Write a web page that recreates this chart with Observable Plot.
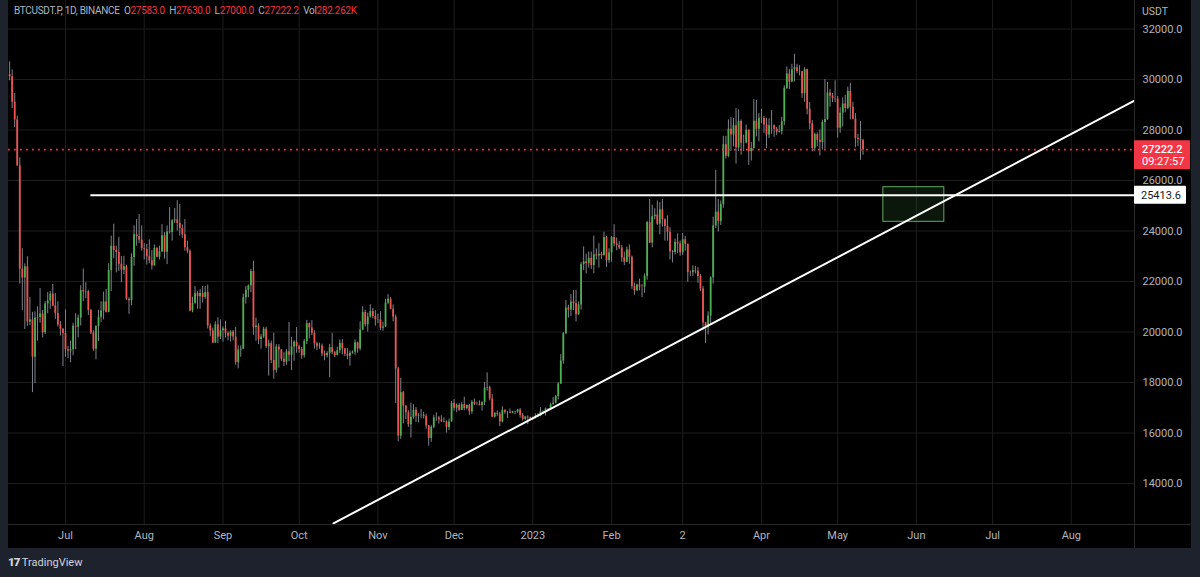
<!DOCTYPE html>
<html>
<head>
<meta charset="utf-8">
<script src="https://cdn.jsdelivr.net/npm/d3@7"></script>
<script src="https://cdn.jsdelivr.net/npm/@observablehq/plot@0.6"></script>
<style>
  html, body { margin: 0; padding: 0; background: #1e222d; width: 1200px; height: 577px; overflow: hidden;
    font-family: Roboto, "Noto Sans", sans-serif; }
  #wrap { position: absolute; left: 8px; top: 0; width: 1183px; height: 548px; background: #000; }
  #wrap svg { display: block; }
  #header { position: absolute; left: 6px; top: 5px; font-size: 10px; color: #b2b5be; white-space: pre; letter-spacing: -0.3px; }
  #header .v { color: #f23645; }
  #unit { position: absolute; left: 1134px; top: 5px; font-size: 10.5px; color: #b2b5be; }
  #logo { position: absolute; left: 8px; top: 555px; font-size: 11px; color: #d1d4dc; white-space: pre; }
  #logo b { font-weight: 900; letter-spacing: -1px; font-size: 11.5px; }
</style>
</head>
<body>
<div id="wrap">
  <div id="chart"></div>
  <div id="header"></div>
  <div id="unit">USDT</div>
</div>
<div id="logo"><b>17</b> TradingView</div>
<script>
// ---------------- DATA (daily candles, BTCUSDT.P, from 2022-06-09 to 2023-05-11) ----------------
const symbolText = "BTCUSDT.P, 1D, BINANCE";
const firstDay = "2022-06-09";
const lastVolume = "282.262K";
const countdown = "09:27:57";

const open = [
  30190,30110,29100,28400,26580,22490,22140,22580,20400,20480,19000,20550,20570,20710,19970,21110,21230,21500,21030,20730,20280,20110,
  19940,19300,19240,19300,20230,20190,20550,21640,21590,21600,20850,19960,19320,20220,20580,20830,21190,20780,22430,23390,23230,23150,22680,22450,22580,21300,21240,22950,23850,23780,23640,
  23300,23270,22980,22820,22620,23310,22960,23180,23810,23160,23960,23940,24400,24440,24300,24100,23850,23340,23200,20830,21140,21520,21400,21530,21370,21560,20240,20040,19560,20280,19800,
  20050,20130,19950,19830,20000,19800,18790,19290,19320,21360,21650,21830,22400,20180,20240,19700,19800,20110,19420,19540,18870,18480,19400,19290,18920,18800,19220,19080,19410,19590,
  19420,19310,19060,19620,20330,20160,19950,19530,19420,19440,19130,19060,19150,19380,19180,19070,19260,19550,19330,19120,19040,19160,19200,19570,19330,20080,20770,20290,20590,20810,20620,
  20490,20480,20150,20200,21150,21300,20900,20590,18540,15880,17600,17070,16800,16330,16620,16900,16660,16690,16700,16650,16280,15780,16230,16600,16600,16520,16460,16440,16220,16440,
  17170,16980,17100,16890,17120,16970,17090,16840,17220,17130,17130,17090,17210,17780,17800,17350,16630,16780,16740,16440,16900,16820,16820,16780,16840,16830,16910,16700,16540,16630,16600,
  16540,16610,16670,16670,16850,16830,16950,16940,17120,17180,17440,17940,18850,19930,20950,20870,21190,21130,20680,21070,22670,22780,22710,22920,22630,23060,23010,23080,23030,23740,22830,
  23130,23740,23490,23430,23330,22930,22760,23250,22960,21800,21630,21860,21780,21780,22200,24330,23520,24570,24630,24270,24840,24450,24180,23950,23180,23150,23550,23490,
  23140,23650,23470,22360,22350,22430,22410,22200,21700,20360,20190,20630,22150,24200,24750,24380,25050,27420,26960,28030,27800,28170,27300,28340,27480,27490,27990,27140,27270,28350,28030,
  28470,28460,28200,27800,28170,28170,28030,27910,27940,28330,29650,30220,29900,30390,30470,30320,30310,29440,30390,28820,28250,27270,27820,27590,27510,28300,28420,29470,29340,29240,
  29230,28070,28670,29030,28850,29530,28900,28430,27660,27620,27583
];
const high = [
  30700,30380,29450,28550,26900,23300,22700,22980,21360,20780,20800,21000,21720,20850,21200,21560,21600,21880,21520,21200,20420,20140,
  20870,19430,19640,20350,20720,20670,21830,22500,21950,21650,20900,20050,20250,20860,21200,21580,21680,22700,23800,24270,23400,23750,22990,23000,22650,21350,23100,24200,24450,24650,24200,
  23500,23470,23650,23220,23450,23350,23400,24250,23940,24200,24920,24450,24890,25200,25050,24240,24450,23600,23250,21380,21800,21600,21680,21800,21800,21860,20330,20150,20400,20560,20480,
  20200,20430,20000,20050,20060,20180,19450,19450,21500,21800,21860,22480,22800,20550,20330,19900,20190,20190,19680,19640,19950,19500,19500,19300,19180,19300,20380,19790,19650,20180,
  19480,19390,19700,20460,20360,20450,20050,19600,19560,19520,19250,19220,19510,19950,19230,19400,19680,19700,19350,19350,19250,19250,19690,19600,20400,21000,20860,20750,21080,20930,20840,
  20700,20800,20390,21300,21480,21360,21070,20670,18600,18170,17650,17080,16880,17180,17120,17010,16770,16930,16820,16740,16300,16290,16700,16800,16650,16680,16600,16480,16550,17250,
  17320,17150,17160,17200,17420,17110,17130,17280,17350,17220,17270,17240,18000,18380,17850,17530,16800,16870,16820,17040,16910,16860,16950,16860,16870,16940,16970,16780,16660,16680,16630,
  16630,16760,16770,17000,16880,16990,16970,17180,17400,17490,18000,19100,19980,21250,21060,21480,21640,21650,21190,22750,23370,23080,23170,23160,23800,23290,23500,23160,23950,23790,23300,
  23780,24250,23720,23580,23430,23160,23360,23450,23010,21940,21900,22090,21880,22300,24380,25250,25020,24880,25190,25120,25250,24480,24600,24130,23220,23680,23880,23600,
  23900,23780,23480,22420,22620,22600,22550,22270,21810,20370,20800,22190,24550,26400,25250,25190,27750,27750,28400,28500,28450,28850,28800,28400,27800,28200,28000,27500,29200,29170,28650,
  28820,28530,28470,28440,28770,28200,28100,28170,28500,29750,30500,30400,30600,31000,30600,30550,30320,30470,30410,29090,28370,27880,27880,28000,28390,30000,29880,29600,29450,29950,
  29330,28880,29270,29380,29700,29850,29100,28650,27830,28330,27630
];
const low = [
  29950,28850,28100,26560,21900,20850,20100,20230,20250,17600,17960,19640,20350,19770,19900,20720,20900,21000,20500,20200,19840,18630,
  19000,18950,18780,19060,19300,19770,20240,21200,21320,20650,19900,19240,18900,19620,20380,20480,20750,20760,21600,22900,22340,22400,21950,22280,21250,20700,21040,22600,23400,23500,23200,
  22850,22650,22700,22450,22600,22940,22850,23150,22880,22670,23870,23600,24300,24000,23800,23700,23200,23100,20800,20760,21100,20900,20900,21150,21300,20120,19810,19550,19550,19540,19700,
  19600,19760,19650,19600,19650,18680,18540,19000,19300,21100,21360,21560,19870,19630,19500,19320,19750,19350,18250,18750,18130,18370,18570,18820,18630,18680,18820,18470,18840,19160,
  19160,18920,18970,19500,19730,19850,19320,19260,19320,19020,18860,18970,18190,19100,18980,19050,19150,19100,19020,18900,18650,19120,19080,19160,19250,20050,20200,20000,20550,20520,20230,
  20330,20050,20030,20170,21080,20880,20400,17170,15650,15750,16360,16530,16220,15800,16540,16420,16400,16560,16560,16150,15480,15630,16170,16460,16350,16410,16400,16000,16100,16430,
  16870,16800,16860,16880,16880,16910,16690,16740,17090,17080,17070,16870,17080,17660,17270,16600,16590,16660,16260,16400,16740,16570,16770,16760,16730,16780,16590,16470,16500,16330,16490,
  16490,16550,16600,16650,16750,16670,16910,16900,17100,17150,17310,17920,18720,19890,20550,20620,20850,20400,20660,20870,22430,22300,22530,22480,22300,22850,22530,22880,23000,22560,22720,
  22760,23370,23220,23260,22760,22630,22750,22680,21690,21460,21600,21630,21360,21530,22050,23500,23330,24440,24220,23850,24150,23600,23600,22850,22740,23050,23100,23000,
  23030,23200,21970,22200,22200,22300,21930,21600,20050,19550,19880,20300,21900,24100,23960,24220,24900,26850,26900,27150,27330,26650,27150,27000,27150,27450,26600,26770,27250,27720,27530,
  28250,27870,27260,27660,27830,27710,27780,27880,27800,28170,29600,29600,29870,29900,30230,30140,29260,29100,28600,28010,27130,27140,27350,26970,27200,27250,28380,28900,29080,29080,
  27680,27870,28120,28680,28800,28400,28400,27300,27350,26800,27000
];
const close = [
  30110,29100,28400,26580,22490,22140,22580,20400,20480,19000,20550,20570,20710,19970,21110,21230,21500,21030,20730,20280,20110,19940,
  19300,19240,19300,20230,20190,20550,21640,21590,21600,20850,19960,19320,20220,20580,20830,21190,20780,22430,23390,23230,23150,22680,22450,22580,21300,21240,22950,23850,23780,23640,23300,
  23270,22980,22820,22620,23310,22960,23180,23810,23160,23960,23940,24400,24440,24300,24100,23850,23340,23200,20830,21140,21520,21400,21530,21370,21560,20240,20040,19560,20280,19800,20050,
  20130,19950,19830,20000,19800,18790,19290,19320,21360,21650,21830,22400,20180,20240,19700,19800,20110,19420,19540,18870,18480,19400,19290,18920,18800,19220,19080,19410,19590,19420,
  19310,19060,19620,20330,20160,19950,19530,19420,19440,19130,19060,19150,19380,19180,19070,19260,19550,19330,19120,19040,19160,19200,19570,19330,20080,20770,20290,20590,20810,20620,20490,
  20480,20150,20200,21150,21300,20900,20590,18540,15880,17600,17070,16800,16330,16620,16900,16660,16690,16700,16650,16280,15780,16230,16600,16600,16520,16460,16440,16220,16440,17170,
  16980,17100,16890,17120,16970,17090,16840,17220,17130,17130,17090,17210,17780,17800,17350,16630,16780,16740,16440,16900,16820,16820,16780,16840,16830,16910,16700,16540,16630,16600,16540,
  16610,16670,16670,16850,16830,16950,16940,17120,17180,17440,17940,18850,19930,20950,20870,21190,21130,20680,21070,22670,22780,22710,22920,22630,23060,23010,23080,23030,23740,22830,23130,
  23740,23490,23430,23330,22930,22760,23250,22960,21800,21630,21860,21780,21780,22200,24330,23520,24570,24630,24270,24840,24450,24180,23950,23180,23150,23550,23490,23140,
  23650,23470,22360,22350,22430,22410,22200,21700,20360,20190,20630,22150,24200,24750,24380,25050,27420,26960,28030,27800,28170,27300,28340,27480,27490,27990,27140,27270,28350,28030,28470,
  28460,28200,27800,28170,28170,28030,27910,27940,28330,29650,30220,29900,30390,30470,30320,30310,29440,30390,28820,28250,27270,27820,27590,27510,28300,28420,29470,29340,29240,29230,
  28070,28670,29030,28850,29530,28900,28430,27660,27620,27583,27222.2
];

// Axis ticks and labels
const priceTicks = [14000, 16000, 18000, 20000, 22000, 24000, 26000, 28000, 30000, 32000];
const monthTickDates = ["2022-07-01","2022-08-01","2022-09-01","2022-10-01","2022-11-01","2022-12-01","2023-01-01",
                        "2023-02-01","2023-03-01","2023-04-01","2023-05-01","2023-06-01","2023-07-01","2023-08-01"];
const monthTickLabels = ["Jul","Aug","Sep","Oct","Nov","Dec","2023","Feb","2","Apr","May","Jun","Jul","Aug"];

// Drawings
const levelPrice = 25413.6;
const levelStart = "2022-07-11";
const trendPoints = [{date: "2022-10-14T12:00Z", price: 12420}, {date: "2023-08-26T00:00Z", price: 29170}];
const zoneBox = {x1: "2023-05-19", x2: "2023-06-12", y1: 24364, y2: 25735};

// View (visible range of the chart)
const xView = ["2022-06-08T13:30Z", "2023-08-25T21:00Z"];
const yView = [12376, 33129];

// ---------------- BUILD ----------------
const n = Math.min(open.length, high.length, low.length, close.length);
const t0 = new Date(firstDay + "T00:00Z").getTime();
const candles = d3.range(n).map(i => ({
  date: new Date(t0 + i * 864e5), open: open[i], high: high[i], low: low[i], close: close[i]
}));
const months = monthTickDates.map(s => new Date(s + "T00:00Z"));
const labelByTime = new Map(months.map((d, i) => [+d, monthTickLabels[i]]));
const lastC = candles[n - 1];
const lastClose = lastC.close;
const xDomain = xView.map(s => new Date(s));
const trend = trendPoints.map(p => ({date: new Date(p.date), price: p.price}));
const zone = [{x1: new Date(zoneBox.x1 + "T00:00Z"), x2: new Date(zoneBox.x2 + "T00:00Z"), y1: zoneBox.y1, y2: zoneBox.y2}];
const levelRow = [{y: levelPrice, x1: new Date(levelStart + "T00:00Z"), x2: xDomain[1]}];

const W = 1183, H = 548, mL = 0, mR = 57, mT = 0, mB = 24;
const up = "#4caf50", down = "#ef5350", wick = "#80838c", grid = "#1d1d1d";

const chart = Plot.plot({
  width: W, height: H,
  marginLeft: mL, marginRight: mR, marginTop: mT, marginBottom: mB,
  style: {background: "#000", color: "#b2b5be", fontSize: "11px", fontFamily: "Roboto, 'Noto Sans', sans-serif", overflow: "visible"},
  x: {type: "utc", domain: xDomain},
  y: {domain: yView},
  marks: [
    Plot.ruleY(priceTicks, {stroke: grid, strokeWidth: 1}),
    Plot.ruleX(months, {stroke: grid, strokeWidth: 1}),
    Plot.ruleX(candles, {x: "date", y1: "low", y2: "high", stroke: wick, strokeWidth: 1}),
    Plot.ruleX(candles, {filter: d => d.close >= d.open, x: "date", y1: "open", y2: "close", stroke: up, strokeWidth: 1.8}),
    Plot.ruleX(candles, {filter: d => d.close < d.open, x: "date", y1: "open", y2: "close", stroke: down, strokeWidth: 1.8}),
    Plot.ruleY([lastClose], {stroke: "#f23645", strokeWidth: 1.6, strokeDasharray: "1.8,4.2"}),
    Plot.rect(zone, {x1: "x1", x2: "x2", y1: "y1", y2: "y2", fill: "#4caf50", fillOpacity: 0.13, stroke: "#66bb6a", strokeOpacity: 0.9, strokeWidth: 1}),
    Plot.ruleY(levelRow, {y: "y", x1: "x1", x2: "x2", stroke: "#ffffff", strokeWidth: 2}),
    Plot.line(trend, {x: "date", y: "price", stroke: "#ffffff", strokeWidth: 2, clip: true}),
    Plot.axisY(priceTicks, {anchor: "right", tickSize: 0, tickPadding: 8, tickFormat: d => d.toFixed(1), label: null}),
    Plot.axisX(months, {anchor: "bottom", tickSize: 0, tickPadding: 7, tickFormat: d => labelByTime.get(+d), label: null})
  ]
});
document.getElementById("chart").appendChild(chart);

// Panel separators and price tags on the price scale
const svg = d3.select(chart);
const ys = chart.scale("y");
const px = W - mR, py = H - mB;
svg.append("line").attr("x1", px + 0.5).attr("x2", px + 0.5).attr("y1", 0).attr("y2", H).attr("stroke", "#2a2a2a");
svg.append("line").attr("x1", 0).attr("x2", W).attr("y1", py + 0.5).attr("y2", py + 0.5).attr("stroke", "#2a2a2a");

const tags = svg.append("g").attr("text-anchor", "start").attr("font-size", 11);
const yc = ys.apply(lastClose);
tags.append("rect").attr("x", px).attr("y", yc - 9).attr("width", 56).attr("height", 29).attr("fill", "#f23645").attr("rx", 1);
tags.append("text").attr("x", px + 8).attr("y", yc).attr("dy", "0.35em").attr("fill", "#fff").attr("font-weight", 500)
  .text(lastClose.toFixed(1));
tags.append("text").attr("x", px + 8).attr("y", yc + 12.5).attr("dy", "0.35em").attr("fill", "#fff")
  .text(countdown);

const yl = ys.apply(levelPrice);
tags.append("rect").attr("x", px).attr("y", yl - 9).attr("width", 52).attr("height", 18).attr("fill", "#ffffff").attr("rx", 1);
tags.append("text").attr("x", px + 7).attr("y", yl).attr("dy", "0.35em").attr("fill", "#131722")
  .text(levelPrice.toFixed(1));

// Legend / header line
const hdr = document.getElementById("header");
const f = v => v.toFixed(1);
hdr.innerHTML = `${symbolText}  O<span class="v">${f(lastC.open)}</span>  H<span class="v">${f(lastC.high)}</span>  L<span class="v">${f(lastC.low)}</span>  C<span class="v">${f(lastC.close)}</span>  Vol<span class="v">${lastVolume}</span>`;
</script>
</body>
</html>
